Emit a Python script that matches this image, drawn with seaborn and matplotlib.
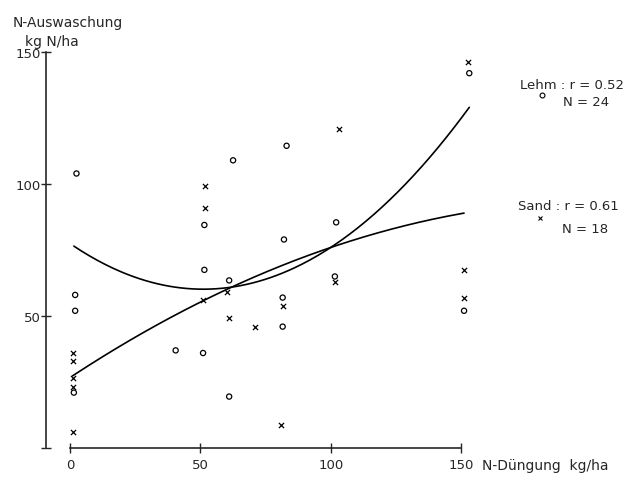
import numpy as np
import pandas as pd
import matplotlib
matplotlib.use('Agg')
import matplotlib.pyplot as plt
import seaborn as sns

# Werte (N-Düngung kg/ha, N-Auswaschung kg N/ha)
lehm_x = [2.5, 2, 2, 1.5, 40.5, 51, 51.5, 51.5, 61, 61, 62.5, 82, 83, 81.5, 81.5, 101.5, 102, 153, 151]
lehm_y = [104, 58, 52, 21, 37, 36, 84.5, 67.5, 19.5, 63.5, 109, 79, 114.5, 57, 46, 65, 85.5, 142, 52]

sand_x = [1, 1, 1, 1.3, 1.3, 51, 51.7, 51.7, 60, 61, 71, 81.5, 81, 101.5, 103, 152.5, 151, 151]
sand_y = [6, 26.5, 33, 36, 23, 56, 99.4, 90.8, 59, 49.4, 45.7, 53.7, 8.8, 63, 121, 146.3, 67.5, 57]

# Regressionskurven (quadratisch): a + b*x + c*x^2
lehm_coef = [77.5, -0.678, 0.006634]
lehm_range = [1.5, 153]
sand_coef = [26.7, 0.6507, -0.001577]
sand_range = [1, 151]

lehm_label = ['Lehm : r = 0.52', 'N = 24']
sand_label = ['Sand : r = 0.61', 'N = 18']

x_ticks = [0, 50, 100, 150]
y_ticks = [0, 50, 100, 150]
y_ticklabels = ['', '50', '100', '150']

sns.set_style('ticks')
plt.rcParams['font.family'] = ['DejaVu Sans']

df = pd.DataFrame({
    'x': lehm_x + sand_x,
    'y': lehm_y + sand_y,
    'Boden': ['Lehm'] * len(lehm_x) + ['Sand'] * len(sand_x),
})


def curve(coef, rng):
    xs = np.linspace(rng[0], rng[1], 200)
    return pd.DataFrame({'x': xs, 'y': coef[0] + coef[1] * xs + coef[2] * xs ** 2})


fig = plt.figure(figsize=(6.29, 4.81), dpi=100)
ax = fig.add_axes([0, 0, 1, 1])

lehm = df[df['Boden'] == 'Lehm']
sand = df[df['Boden'] == 'Sand']
sns.scatterplot(data=lehm, x='x', y='y', marker='o', s=14, facecolors='none',
                edgecolor='black', linewidth=0.9, ax=ax, legend=False)
sns.scatterplot(data=sand, x='x', y='y', marker='x', s=14, color='black',
                linewidth=0.9, ax=ax, legend=False)

sns.lineplot(data=curve(lehm_coef, lehm_range), x='x', y='y', color='black', lw=1.2, ax=ax)
sns.lineplot(data=curve(sand_coef, sand_range), x='x', y='y', color='black', lw=1.2, ax=ax)

ax.set_xlim(-26.8, 214.2)
ax.set_ylim(-12.1, 170.1)

for s in ['top', 'right']:
    ax.spines[s].set_visible(False)
ax.spines['left'].set_position(('data', -9.2))
ax.spines['left'].set_bounds(0, 150)
ax.spines['bottom'].set_position(('data', 0))
ax.spines['bottom'].set_bounds(0, 150)
for s in ['left', 'bottom']:
    ax.spines[s].set_linewidth(1.2)

ax.set_xticks(x_ticks)
ax.set_yticks(y_ticks)
ax.set_yticklabels(y_ticklabels)
ax.tick_params(direction='inout', length=7, width=1, labelsize=9.5)
ax.tick_params(axis='x', pad=4)
ax.tick_params(axis='y', pad=0)
ax.set_xlabel('')
ax.set_ylabel('')

ax.text(-21.8, 161.4, 'N-Auswaschung', fontsize=10, va='center', ha='left')
ax.text(-17.2, 154.2, 'kg N/ha', fontsize=10, va='center', ha='left')
ax.text(157.9, -6.4, 'N-Düngung  kg/ha', fontsize=10, va='center', ha='left')

ax.text(172.4, 137.9, lehm_label[0], fontsize=9.5, va='center', ha='left')
ax.text(188.9, 131.1, lehm_label[1], fontsize=9.5, va='center', ha='left')
ax.plot([180.8], [133.7], marker='o', ms=3.5, mfc='none', mec='black', mew=0.8)

ax.text(171.6, 92.0, sand_label[0], fontsize=9.5, va='center', ha='left')
ax.text(188.5, 83.3, sand_label[1], fontsize=9.5, va='center', ha='left')
ax.plot([180.1], [87.1], marker='x', ms=3.5, color='black', mew=0.8)

fig.savefig('out.png', dpi=100)
